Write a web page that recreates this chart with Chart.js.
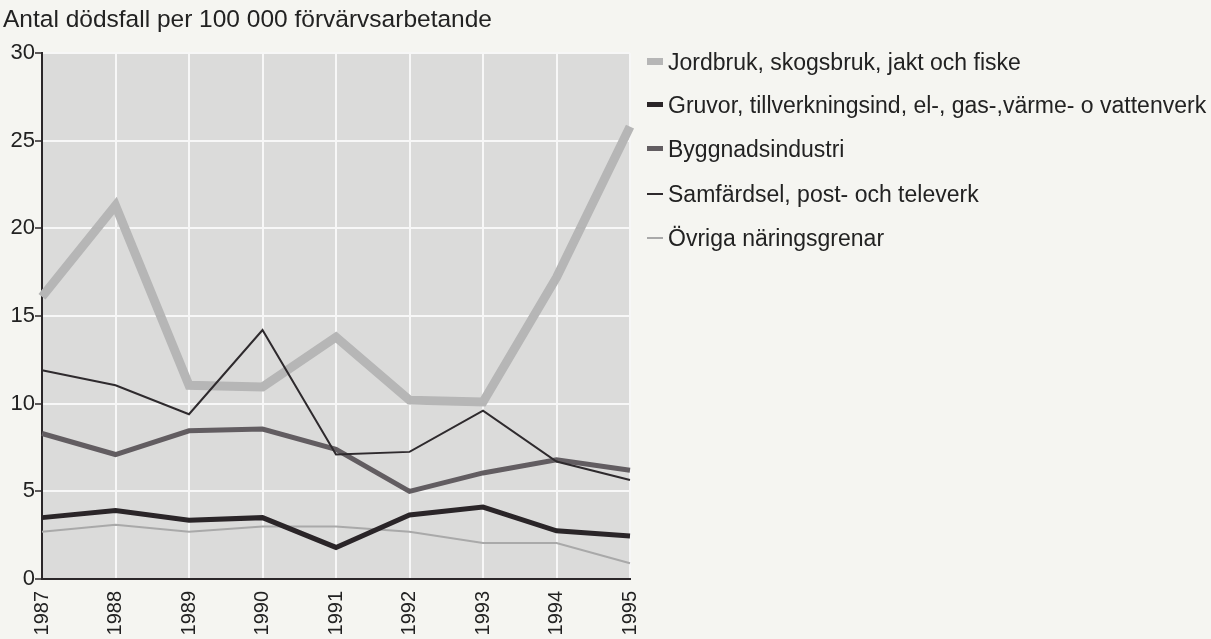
<!DOCTYPE html>
<html>
<head>
<meta charset="utf-8">
<script src="https://cdn.jsdelivr.net/npm/chart.js@4.4.1/dist/chart.umd.min.js"></script>
<style>
  html, body { margin: 0; padding: 0; background: #f5f5f1; }
  body { width: 1211px; height: 639px; position: relative; overflow: hidden; font-family: "Liberation Sans", Arial, sans-serif; }
  #c { position: absolute; left: 0; top: 0; }
  #legend { position: absolute; left: 647px; top: 0; }
  .item { position: absolute; left: 0; white-space: nowrap; font-size: 23px; color: #222; line-height: 28px; height: 28px; }
  .sw { display: inline-block; width: 16px; vertical-align: middle; margin-right: 5px; position: relative; top: -2px; }
</style>
</head>
<body>
<canvas id="c" width="1211" height="639"></canvas>
<div id="legend"></div>
<script>
const titleText = "Antal dödsfall per 100 000 förvärvsarbetande";
const years = ["1987", "1988", "1989", "1990", "1991", "1992", "1993", "1994", "1995"];
const seriesNames = [
  "Jordbruk, skogsbruk, jakt och fiske",
  "Gruvor, tillverkningsind, el-, gas-,värme- o vattenverk",
  "Byggnadsindustri",
  "Samfärdsel, post- och televerk",
  "Övriga näringsgrenar"
];
const jordbruk   = [16.1, 21.3, 11.05, 10.95, 13.8, 10.2, 10.1, 17.2, 25.8];
const gruvor     = [3.5, 3.9, 3.35, 3.5, 1.8, 3.65, 4.1, 2.75, 2.45];
const byggnad    = [8.3, 7.1, 8.45, 8.55, 7.4, 5.0, 6.05, 6.8, 6.2];
const samfardsel = [11.9, 11.05, 9.4, 14.2, 7.1, 7.25, 9.6, 6.7, 5.65];
const ovriga     = [2.7, 3.1, 2.7, 3.0, 3.0, 2.7, 2.05, 2.05, 0.9];
const yTicks = [0, 5, 10, 15, 20, 25, 30];

const seriesData = [jordbruk, gruvor, byggnad, samfardsel, ovriga];
const colors = ["#b6b6b6", "#2a2528", "#625d61", "#2e2a2d", "#a9a9a9"];
const widths = [9, 5, 5, 2, 2];
const swatchH = [7, 5, 5, 2, 2];
const orders = [5, 2, 4, 1, 3];

const plotBg = {
  id: 'plotBg',
  beforeDraw(chart) {
    const a = chart.chartArea, ctx = chart.ctx;
    ctx.save();
    ctx.fillStyle = '#dbdbda';
    ctx.fillRect(a.left, a.top, a.right - a.left, a.bottom - a.top);
    ctx.restore();
  }
};

const font = "'Liberation Sans', Arial, sans-serif";
new Chart(document.getElementById('c'), {
  type: 'line',
  data: {
    labels: years,
    datasets: seriesData.map((d, i) => ({
      label: seriesNames[i],
      data: d,
      borderColor: colors[i],
      backgroundColor: colors[i],
      borderWidth: widths[i],
      pointRadius: 0,
      tension: 0,
      borderJoinStyle: 'miter',
      borderCapStyle: 'butt',
      clip: false,
      order: orders[i]
    }))
  },
  options: {
    responsive: false,
    animation: false,
    devicePixelRatio: 1,
    layout: { padding: { left: 3, right: 581, top: 0, bottom: 0 } },
    plugins: {
      legend: { display: false },
      tooltip: { enabled: false },
      title: {
        display: true, text: titleText, align: 'start', color: '#222',
        font: { family: font, size: 24.5, weight: 'normal', lineHeight: 1.2 },
        padding: { top: 6, bottom: 17.6 }
      }
    },
    scales: {
      x: {
        type: 'category',
        offset: false,
        grid: { color: '#f7f7f7', lineWidth: 2, drawTicks: false },
        border: { display: true, color: '#2b2729', width: 2 },
        ticks: { minRotation: 90, maxRotation: 90, color: '#222', padding: 12,
                 font: { family: font, size: 20 } },
        afterFit(s) { s.height = 60; }
      },
      y: {
        min: 0, max: 30,
        afterBuildTicks(s) { s.ticks = yTicks.map(v => ({ value: v })); },
        grid: { color: '#f7f7f7', lineWidth: 2, tickLength: 7, tickColor: '#2b2729', tickWidth: 1.5 },
        border: { display: true, color: '#2b2729', width: 2 },
        ticks: { color: '#222', padding: 0, font: { family: font, size: 22 } },
        afterFit(s) { s.width = 39; }
      }
    }
  },
  plugins: [plotBg]
});

const leg = document.getElementById('legend');
const rowTops = [48, 91, 135, 180, 224];
seriesNames.forEach((n, i) => {
  const it = document.createElement('div');
  it.className = 'item';
  it.style.top = rowTops[i] + 'px';
  const sw = document.createElement('span');
  sw.className = 'sw';
  sw.style.height = swatchH[i] + 'px';
  sw.style.background = colors[i];
  it.appendChild(sw);
  it.appendChild(document.createTextNode(n));
  leg.appendChild(it);
});
</script>
</body>
</html>
